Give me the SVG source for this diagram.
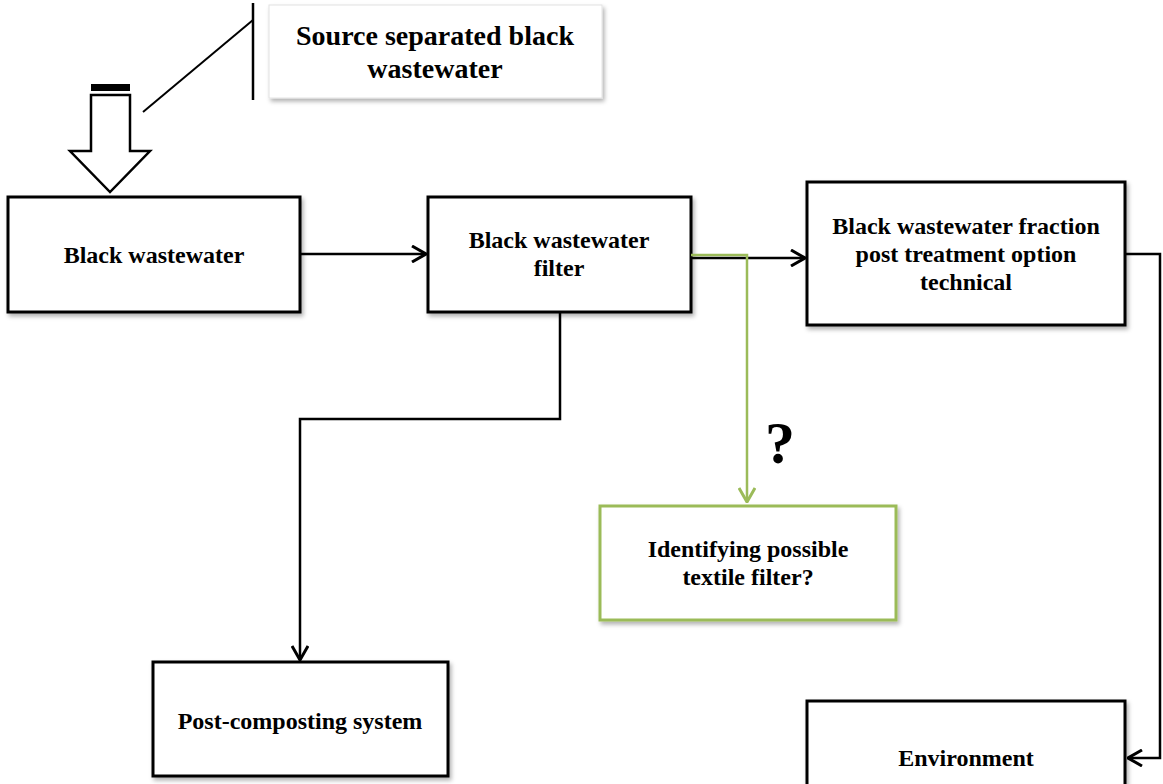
<svg xmlns="http://www.w3.org/2000/svg" width="1163" height="784" viewBox="0 0 1163 784">
<defs>
<filter id="sh" x="-10%" y="-10%" width="125%" height="130%">
<feDropShadow dx="2" dy="3" stdDeviation="2" flood-color="#000" flood-opacity="0.3"/>
</filter>
<marker id="chev" viewBox="0 0 16 18" refX="15" refY="9" markerWidth="16" markerHeight="18" markerUnits="userSpaceOnUse" orient="auto">
<path d="M1,1 L15,9 L1,17" fill="none" stroke="#000" stroke-width="3"/>
</marker>
<marker id="chevg" viewBox="0 0 16 18" refX="15" refY="9" markerWidth="16" markerHeight="18" markerUnits="userSpaceOnUse" orient="auto">
<path d="M1,1 L15,9 L1,17" fill="none" stroke="#9BBB59" stroke-width="3"/>
</marker>
</defs>
<style>
.box{fill:#fff;stroke:#000;stroke-width:3;filter:url(#sh)}
.gbox{fill:#fff;stroke:#9BBB59;stroke-width:3;filter:url(#sh)}
.sbox{fill:#fff;stroke:#e2e2e2;stroke-width:1;filter:url(#sh)}
.t{font-family:"Liberation Serif","Times New Roman",serif;font-weight:bold;font-size:24px;fill:#000;text-anchor:middle}
.ts{font-size:28px}
.ln{fill:none;stroke:#000;stroke-width:2.5}
.lg{fill:none;stroke:#9BBB59;stroke-width:2.5}
</style>
<rect width="1163" height="784" fill="#fff"/>

<g id="source">
<rect class="sbox" x="269" y="5" width="333" height="93"/>
<text class="t ts" x="435" y="45">Source separated black</text>
<text class="t ts" x="435" y="78">wastewater</text>
</g>

<g id="callout">
<line x1="253" y1="3" x2="253" y2="100" stroke="#000" stroke-width="2.5"/>
<line x1="143" y1="112" x2="253" y2="20" stroke="#000" stroke-width="2"/>
<rect x="91" y="84" width="39" height="7" fill="#000"/>
<polygon points="91,95 130,95 130,151 150,151 110,192 70,151 91,151" fill="#fff" stroke="#000" stroke-width="2.5"/>
</g>

<g id="black-wastewater">
<rect class="box" x="8" y="197" width="292" height="115"/>
<text class="t" x="154" y="263">Black wastewater</text>
</g>

<g id="filter">
<rect class="box" x="428" y="197" width="263" height="115"/>
<text class="t" x="559" y="248">Black wastewater</text>
<text class="t" x="559" y="276">filter</text>
</g>

<g id="fraction">
<rect class="box" x="807" y="182" width="318" height="143"/>
<text class="t" x="966" y="234">Black wastewater fraction</text>
<text class="t" x="966" y="262">post treatment option</text>
<text class="t" x="966" y="290">technical</text>
</g>

<g id="textile">
<rect class="gbox" x="600" y="506" width="296" height="114"/>
<text class="t" x="748" y="557">Identifying possible</text>
<text class="t" x="748" y="585">textile filter?</text>
</g>

<g id="post-composting">
<rect class="box" x="153" y="662" width="295" height="114"/>
<text class="t" x="300" y="729">Post-composting system</text>
</g>

<g id="environment">
<rect class="box" x="807" y="701" width="318" height="114"/>
<text class="t" x="966" y="766">Environment</text>
</g>

<g id="connectors">
<line class="ln" x1="300" y1="254" x2="426" y2="254" marker-end="url(#chev)"/>
<line class="ln" x1="691" y1="258" x2="805" y2="258" stroke-width="3" marker-end="url(#chev)"/>
<polyline class="lg" points="691,255 747,255 747,502" marker-end="url(#chevg)"/>
<polyline class="ln" points="560,312 560,419 300,419 300,660" marker-end="url(#chev)"/>
<polyline class="ln" points="1125,254 1160,254 1160,758 1128,758" marker-end="url(#chev)"/>
<text x="765" y="463" font-family="Liberation Serif, serif" font-weight="bold" font-size="60">?</text>
</g>
</svg>
